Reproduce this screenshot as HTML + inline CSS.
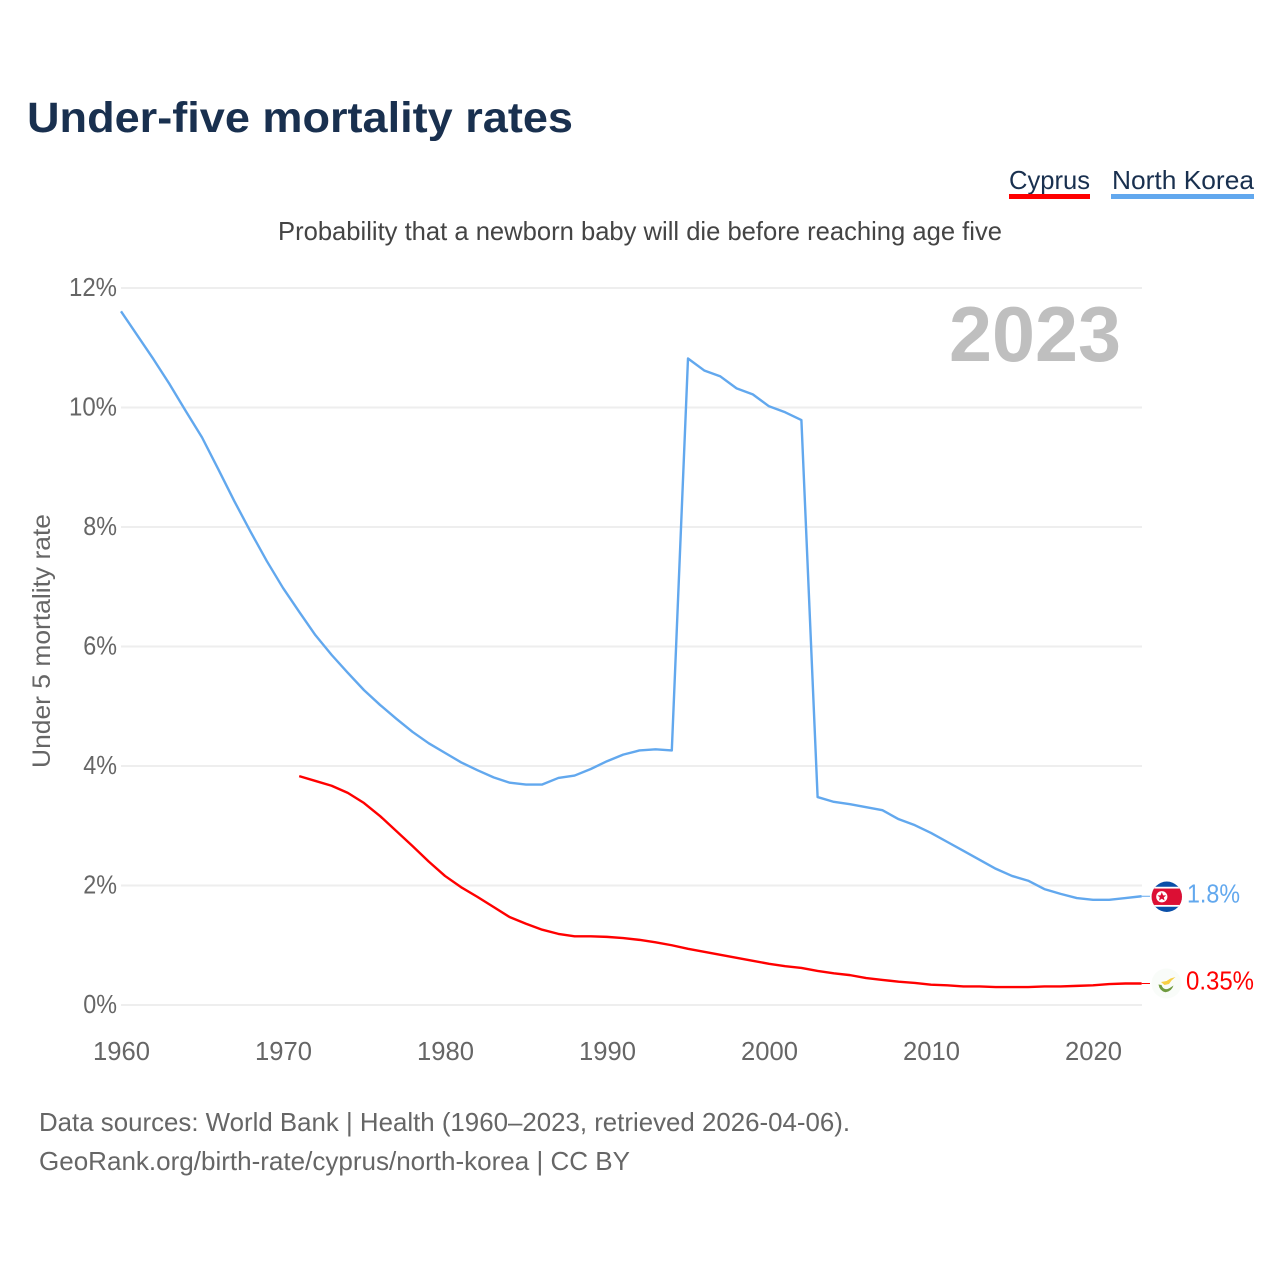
<!DOCTYPE html>
<html lang="en">
<head>
<meta charset="utf-8">
<title>Under-five mortality rates</title>
<style>
html,body{margin:0;padding:0;background:#fff;width:1280px;height:1280px;overflow:hidden}
svg{display:block;font-family:"Liberation Sans",sans-serif}
</style>
</head>
<body>
<svg id="chart" width="1280" height="1280" viewBox="0 0 1280 1280" xmlns="http://www.w3.org/2000/svg">
  <rect width="1280" height="1280" fill="#fff"/>
  <text x="27" y="132" font-size="43" font-weight="700" fill="#19304f" textLength="546" lengthAdjust="spacingAndGlyphs">Under-five mortality rates</text>

  <g>
    <text x="1009" y="189" font-size="26" fill="#19304f" textLength="81" lengthAdjust="spacingAndGlyphs">Cyprus</text>
    <rect x="1009" y="194" width="81" height="5" fill="#ff0000"/>
  </g>
  <g>
    <text x="1112" y="189" font-size="26" fill="#19304f" textLength="142" lengthAdjust="spacingAndGlyphs">North Korea</text>
    <rect x="1111" y="194" width="143" height="5" fill="#62a8ee"/>
  </g>

  <text x="278" y="240" font-size="26" fill="#444" textLength="724" lengthAdjust="spacingAndGlyphs">Probability that a newborn baby will die before reaching age five</text>

  <g id="grid"></g>
  <g id="yticks"></g>
  <g id="xticks"></g>

  <text transform="translate(50,768) rotate(-90)" font-size="25" fill="#666" textLength="254" lengthAdjust="spacingAndGlyphs">Under 5 mortality rate</text>

  <text x="949" y="361" font-size="78" font-weight="700" fill="#bfbfbf" textLength="172" lengthAdjust="spacingAndGlyphs">2023</text>

  <g id="series"></g>

  <g id="end-labels"></g>

  <text x="39" y="1131" font-size="26" fill="#666" textLength="811" lengthAdjust="spacingAndGlyphs">Data sources: World Bank | Health (1960–2023, retrieved 2026-04-06).</text>
  <text x="39" y="1170" font-size="26" fill="#666" textLength="591" lengthAdjust="spacingAndGlyphs">GeoRank.org/birth-rate/cyprus/north-korea | CC BY</text>
</svg>
<script>
const yearStartNK = 1960;
const northKorea = [11.61,11.21,10.81,10.39,9.94,9.5,8.97,8.43,7.92,7.43,6.98,6.58,6.19,5.86,5.56,5.27,5.02,4.79,4.57,4.38,4.22,4.06,3.93,3.81,3.72,3.69,3.69,3.8,3.84,3.95,4.08,4.19,4.26,4.28,4.26,10.82,10.62,10.52,10.32,10.22,10.02,9.92,9.79,3.48,3.4,3.36,3.31,3.26,3.11,3.01,2.88,2.73,2.58,2.43,2.28,2.16,2.08,1.94,1.86,1.79,1.76,1.76,1.79,1.82];
const yearStartCY = 1971;
const cyprus = [3.83,3.75,3.67,3.55,3.38,3.16,2.91,2.66,2.4,2.16,1.97,1.81,1.64,1.47,1.36,1.26,1.19,1.15,1.15,1.14,1.12,1.09,1.05,1.0,0.94,0.89,0.84,0.79,0.74,0.69,0.65,0.62,0.57,0.53,0.5,0.45,0.42,0.39,0.37,0.34,0.33,0.31,0.31,0.3,0.3,0.3,0.31,0.31,0.32,0.33,0.35,0.36,0.36];
const yTicks = [0,2,4,6,8,10,12];
const xTicks = [1960,1970,1980,1990,2000,2010,2020];
const endLabelNK = "1.8%";
const endLabelCY = "0.35%";

const NS = "http://www.w3.org/2000/svg";
function xScale(year){ return 121 + (year - 1960) * (1093 - 121) / 60; }
function yScale(v){ return 1005 - v * (1005 - 288) / 12; }
function make(tag, attrs, parent){
  const el = document.createElementNS(NS, tag);
  for (const k in attrs) el.setAttribute(k, attrs[k]);
  parent.appendChild(el);
  return el;
}
const gridG = document.getElementById("grid");
const yG = document.getElementById("yticks");
const xG = document.getElementById("xticks");
const seriesG = document.getElementById("series");
const endG = document.getElementById("end-labels");

yTicks.forEach(function(t){
  const line = make("line", {x1:121, x2:1142, y1:yScale(t), y2:yScale(t), stroke:"#eeeeee", "stroke-width":2}, gridG);
  
  
  const label = t + "%";
  const txt = make("text", {x:117, y:yScale(t)+8, "text-anchor":"end", "font-size":25.6, fill:"#666", textLength:(label.length-1)*14.25+19.5, lengthAdjust:"spacingAndGlyphs"}, yG);
  txt.textContent = label;
  
  
});
xTicks.forEach(function(t){
  const txt = make("text", {x:xScale(t)+0.5, y:1060, "text-anchor":"middle", "font-size":25.6, fill:"#666"}, xG);
  txt.textContent = t;
  
  
});
function linePath(values, startYear){
  return values.map(function(v,i){
    return (i ? "L" : "M") + xScale(startYear + i).toFixed(2) + " " + yScale(v).toFixed(2);
  }).join(" ");
}
const nkLine = make("path", {d:linePath(northKorea, yearStartNK), fill:"none", stroke:"#62a8ee", "stroke-width":2.4, "stroke-linejoin":"round"}, seriesG);


const cyLine = make("path", {d:linePath(cyprus, yearStartCY), fill:"none", stroke:"#ff0000", "stroke-width":2.4, "stroke-linejoin":"round"}, seriesG);



const nkLastY = yScale(northKorea[northKorea.length-1]);
const cyLastY = yScale(cyprus[cyprus.length-1]);
const nkFlagY = nkLastY + 0.5;
const cyFlagY = cyLastY;

const nkConn = make("line", {x1:xScale(2023), x2:1150, y1:nkLastY, y2:nkLastY, stroke:"#62a8ee", "stroke-width":1}, endG);


const cyConn = make("line", {x1:xScale(2023), x2:1150, y1:cyLastY, y2:cyLastY, stroke:"#ff0000", "stroke-width":1}, endG);



// North Korea flag
const nkFlag = make("g", {transform:"translate(1166.8," + nkFlagY + ")"}, endG);


nkFlag.innerHTML = '<clipPath id="nkc"><circle r="15.2"/></clipPath><g clip-path="url(#nkc)"><rect x="-16" y="-16" width="32" height="32" fill="#0a4fa8"/><rect x="-16" y="-10" width="32" height="20" fill="#fff"/><rect x="-16" y="-8.2" width="32" height="16.4" fill="#dc0f34"/><circle cx="-5" cy="0" r="5.6" fill="#fff"/><path d="M-5 -4.6L-3.7 -1.4L-.6 -1.4L-3 .6L-2.2 3.8L-5 2L-7.8 3.8L-7 .6L-9.4 -1.4L-6.3 -1.4Z" fill="#dc0f34"/></g>';

// Cyprus flag
const cyFlag = make("g", {transform:"translate(1166.5," + cyFlagY + ")"}, endG);


cyFlag.innerHTML = '<circle r="15" fill="#f9fcf9"/><path d="M-5.5 -1.5L0 -2.5L4 -5L9 -6.5L5 -3L2.5 0.5L-2 1.5Z" fill="#f7cf45"/><path d="M-8 1Q-7 7.5 -1 8.8Q5 8 7 2L4 4Q1 6 -1 5.6Q-4 5 -5 1.5Z" fill="#6f9b3f"/>';

const nkText = make("text", {x:1187, y:nkLastY+6, "font-size":25.6, fill:"#62a8ee", textLength:53, lengthAdjust:"spacingAndGlyphs"}, endG);
nkText.textContent = endLabelNK;


const cyText = make("text", {x:1186, y:cyLastY+6, "font-size":25.6, fill:"#ff0000", textLength:68, lengthAdjust:"spacingAndGlyphs"}, endG);
cyText.textContent = endLabelCY;


</script>
</body>
</html>
